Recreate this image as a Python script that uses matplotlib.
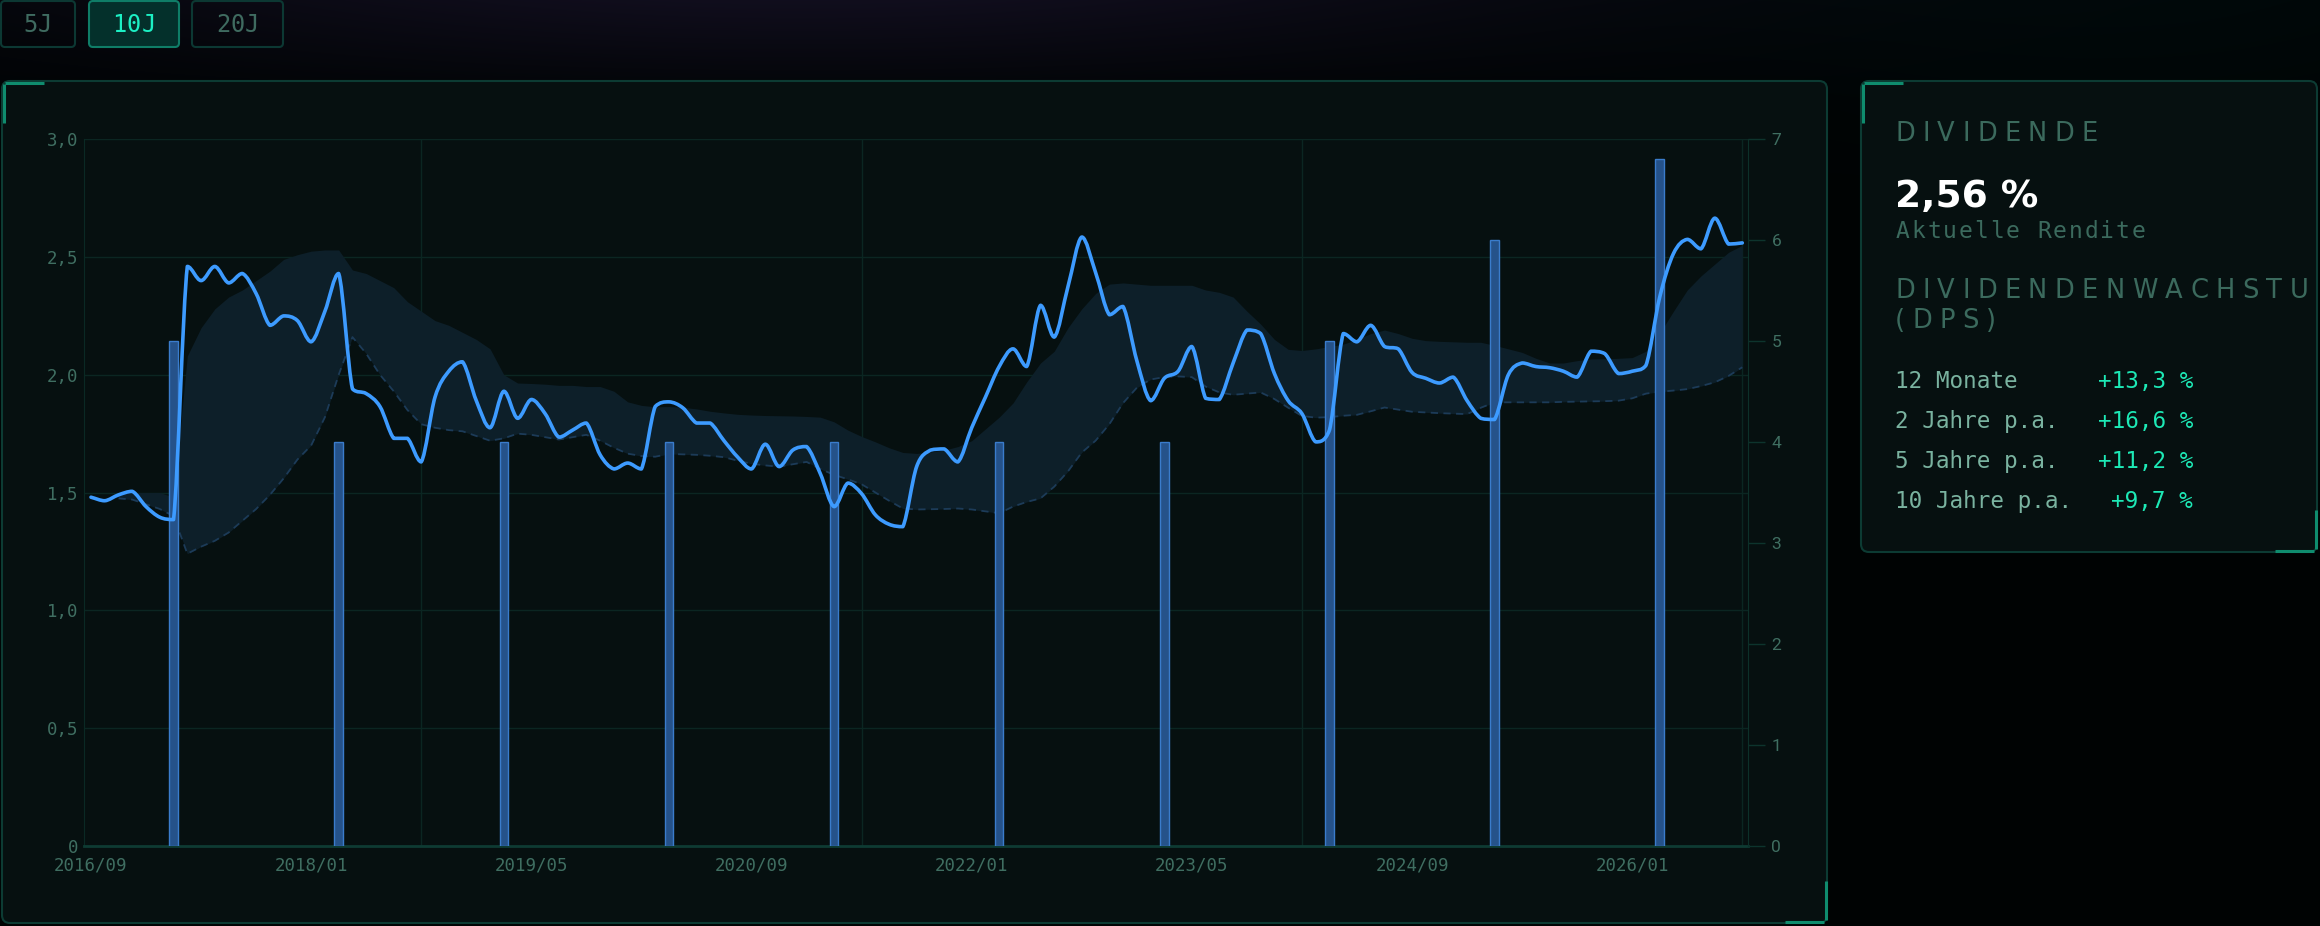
import matplotlib
matplotlib.use("Agg")
import matplotlib.pyplot as plt
from matplotlib.patches import FancyBboxPatch, Rectangle, PathPatch
from matplotlib.path import Path
import numpy as np

# --- Daten ---
start_monat = "2016/09"
rendite = [1.48, 1.465, 1.49, 1.505, 1.44, 1.395, 1.385, 2.46, 2.40, 2.46,
           2.39, 2.43, 2.345, 2.21, 2.25, 2.23, 2.14, 2.27, 2.43, 1.94,
           1.92, 1.865, 1.73, 1.73, 1.63, 1.905, 2.015, 2.055, 1.89, 1.775,
           1.93, 1.815, 1.895, 1.835, 1.735, 1.765, 1.795, 1.66, 1.60, 1.625,
           1.60, 1.865, 1.885, 1.86, 1.795, 1.795, 1.72, 1.65, 1.60, 1.705,
           1.61, 1.68, 1.695, 1.58, 1.44, 1.54, 1.495, 1.405, 1.365, 1.355,
           1.61, 1.68, 1.685, 1.63, 1.775, 1.905, 2.035, 2.11, 2.035, 2.295,
           2.16, 2.375, 2.585, 2.435, 2.255, 2.29, 2.06, 1.89, 1.985, 2.015,
           2.12, 1.90, 1.895, 2.05, 2.19, 2.175, 2.005, 1.89, 1.835, 1.715,
           1.765, 2.175, 2.14, 2.21, 2.12, 2.11, 2.01, 1.985, 1.965, 1.99,
           1.89, 1.815, 1.81, 2.00, 2.05, 2.035, 2.03, 2.015, 1.99, 2.10,
           2.09, 2.005, 2.015, 2.04, 2.33, 2.515, 2.575, 2.535, 2.665, 2.555,
           2.56]

# Band (Spanne der Rendite), beginnt 2016/11
band_start = 2
band_oben = [1.50, 1.50, 1.50, 1.50, 1.48, 2.08, 2.20, 2.28, 2.33, 2.36,
             2.40, 2.44, 2.49, 2.51, 2.525, 2.53, 2.53, 2.445, 2.43, 2.40,
             2.37, 2.31, 2.27, 2.23, 2.21, 2.18, 2.15, 2.11, 2.00, 1.965,
             1.963, 1.96, 1.955, 1.955, 1.95, 1.95, 1.93, 1.885, 1.87, 1.864,
             1.865, 1.862, 1.855, 1.845, 1.838, 1.832, 1.829, 1.827, 1.826, 1.825,
             1.823, 1.82, 1.80, 1.765, 1.738, 1.715, 1.69, 1.67, 1.666, 1.672,
             1.68, 1.695, 1.72, 1.77, 1.82, 1.88, 1.97, 2.05, 2.10, 2.20,
             2.28, 2.345, 2.385, 2.39, 2.385, 2.38, 2.38, 2.38, 2.38, 2.36,
             2.35, 2.33, 2.27, 2.215, 2.15, 2.108, 2.103, 2.11, 2.12, 2.13,
             2.15, 2.175, 2.19, 2.175, 2.155, 2.145, 2.142, 2.14, 2.138, 2.138,
             2.125, 2.11, 2.095, 2.07, 2.05, 2.05, 2.06, 2.067, 2.068, 2.07,
             2.073, 2.10, 2.176, 2.27, 2.36, 2.42, 2.47, 2.52, 2.55]
band_unten = [1.475, 1.47, 1.45, 1.43, 1.40, 1.24, 1.27, 1.295, 1.33, 1.38,
              1.43, 1.49, 1.56, 1.64, 1.70, 1.82, 2.00, 2.16, 2.09, 2.00,
              1.93, 1.85, 1.79, 1.775, 1.765, 1.76, 1.74, 1.72, 1.73, 1.75,
              1.745, 1.735, 1.725, 1.735, 1.745, 1.72, 1.69, 1.665, 1.655, 1.652,
              1.664, 1.662, 1.66, 1.656, 1.65, 1.635, 1.622, 1.615, 1.61, 1.62,
              1.63, 1.60, 1.575, 1.556, 1.535, 1.50, 1.465, 1.432, 1.428, 1.429,
              1.43, 1.432, 1.428, 1.42, 1.412, 1.44, 1.46, 1.475, 1.525, 1.59,
              1.67, 1.72, 1.79, 1.88, 1.945, 1.98, 1.99, 1.993, 1.99, 1.95,
              1.925, 1.915, 1.92, 1.925, 1.897, 1.86, 1.825, 1.818, 1.82, 1.826,
              1.83, 1.845, 1.861, 1.852, 1.843, 1.84, 1.837, 1.835, 1.833, 1.86,
              1.883, 1.883, 1.883, 1.883, 1.883, 1.885, 1.886, 1.887, 1.888, 1.89,
              1.90, 1.92, 1.928, 1.933, 1.939, 1.952, 1.968, 1.995, 2.032]

# Dividende je Aktie (rechte Achse)
dps_monate = ["2017/03", "2018/03", "2019/03", "2020/03", "2021/03",
              "2022/03", "2023/03", "2024/03", "2025/03", "2026/03"]
dps_werte = [5, 4, 4, 4, 4, 4, 4, 5, 6, 6.8]

x_labels = ["2016/09", "2018/01", "2019/05", "2020/09",
            "2022/01", "2023/05", "2024/09", "2026/01"]
y_links = ["0", "0,5", "1,0", "1,5", "2,0", "2,5", "3,0"]

zeitraeume = ["5J", "10J", "20J"]
aktiv = "10J"

wachstum_labels = ["12 Monate", "2 Jahre p.a.", "5 Jahre p.a.", "10 Jahre p.a."]
wachstum_werte = ["+13,3 %", "+16,6 %", "+11,2 %", "+9,7 %"]
aktuelle_rendite = "2,56 %"


def monat_index(s):
    j, m = s.split("/")
    j0, m0 = start_monat.split("/")
    return (int(j) - int(j0)) * 12 + int(m) - int(m0)


def glatter_pfad(xs, ys, k=0.5):
    # Kurve durch die Punkte (Bezier), Kontrollpunkte auf das Segment begrenzt
    xs = np.asarray(xs, float)
    ys = np.asarray(ys, float)
    n = len(xs)
    verts = [(xs[0], ys[0])]
    codes = [Path.MOVETO]
    for i in range(n - 1):
        p0 = max(i - 1, 0)
        p3 = min(i + 2, n - 1)
        lo, hi = min(ys[i], ys[i + 1]), max(ys[i], ys[i + 1])
        d1 = (ys[i + 1] - ys[p0]) / (xs[i + 1] - xs[p0])
        d2 = (ys[p3] - ys[i]) / (xs[p3] - xs[i])
        h = (xs[i + 1] - xs[i]) * k * 2 / 3
        c1 = (xs[i] + h, np.clip(ys[i] + d1 * h, lo, hi))
        c2 = (xs[i + 1] - h, np.clip(ys[i + 1] - d2 * h, lo, hi))
        verts += [c1, c2, (xs[i + 1], ys[i + 1])]
        codes += [Path.CURVE4] * 3
    return Path(verts, codes)


W, H = 2320, 926
fig = plt.figure(figsize=(W / 100, H / 100), dpi=100)
fig.patch.set_facecolor("#000000")

# Hintergrund in Pixelkoordinaten
bg = fig.add_axes([0, 0, 1, 1], zorder=0)
yy, xx = np.mgrid[0:H, 0:W].astype(float)
img = np.zeros((H, W, 3))
img[:] = [0.0, 0.012, 0.014]
top = np.clip(1 - yy / 110, 0, 1)
glow = np.exp(-((xx - 800) / 800) ** 2)
img += (top * glow)[..., None] * np.array([0.065, 0.042, 0.10])
haze = np.exp(-((xx - 2150) / 450) ** 2) * np.clip(1 - yy / 200, 0, 1)
img += haze[..., None] * np.array([0.0, 0.02, 0.02])
bg.imshow(np.clip(img, 0, 1), extent=(0, W, H, 0), aspect="auto", interpolation="bilinear")
bg.set_xlim(0, W)
bg.set_ylim(H, 0)
bg.axis("off")

akzent = "#0f8c6e"
rand = "#0c3b33"


def panel(x0, y0, x1, y1):
    p = FancyBboxPatch((x0, y0), x1 - x0, y1 - y0,
                       boxstyle="round,pad=0,rounding_size=8",
                       fc="#061010", ec=rand, lw=1.5, zorder=1)
    bg.add_patch(p)
    kw = dict(color=akzent, lw=2.2, solid_capstyle="butt", zorder=2)
    bg.plot([x0 + 3, x0 + 42], [y0 + 1.5, y0 + 1.5], **kw)
    bg.plot([x0 + 1.5, x0 + 1.5], [y0 + 3, y0 + 42], **kw)
    bg.plot([x1 - 42, x1 - 3], [y1 - 1.5, y1 - 1.5], **kw)
    bg.plot([x1 - 1.5, x1 - 1.5], [y1 - 42, y1 - 3], **kw)


panel(2, 81, 1827, 923)
panel(1861, 81, 2317, 552)

# Zeitraum-Buttons
knopf_x = [(1, 75), (89, 179), (192, 283)]
for (a, b), name in zip(knopf_x, zeitraeume):
    an = name == aktiv
    p = FancyBboxPatch((a, 1), b - a, 46, boxstyle="round,pad=0,rounding_size=4",
                       fc="#04302b" if an else "none",
                       ec="#0f7d67" if an else "#0c3833", lw=1.5, zorder=1)
    bg.add_patch(p)
    pitch = 14.4
    x_links = (a + b) / 2 - pitch * len(name) / 2
    for i, ch in enumerate(name):
        bg.text(x_links + pitch * (i + 0.5), 32, ch, ha="center", va="baseline",
                fontsize=17, family="DejaVu Sans Mono",
                color="#1cf0c4" if an else "#3f6b60", zorder=3)

# --- Diagramm ---
ax = fig.add_axes([83.7 / W, 1 - 845.7 / H, (1747.8 - 83.7) / W, (845.7 - 139.3) / H], zorder=2)
ax.set_facecolor("none")
ax2 = ax.twinx()
ax2.set_zorder(3)
ax2.patch.set_visible(False)

x = np.arange(len(rendite))
xb = np.arange(len(band_oben)) + band_start
gitter = "#0b2622"

ax.fill_between(xb, band_unten, band_oben, color="#0d1f29", lw=0, zorder=1)
ax.plot(xb, band_unten, color="#1c3b58", lw=1.3, ls=(0, (4, 3)), zorder=2)
for m in [24, 56, 88, 120]:
    ax.axvline(m, color=gitter, lw=1, zorder=0.5)
ax.grid(axis="y", color=gitter, lw=1)
ax.set_axisbelow(True)

bx = [monat_index(s) for s in dps_monate]
ax2.bar(bx, dps_werte, width=0.62, color="#25528a", edgecolor="#3a7ccc", lw=1, zorder=3)
linie = PathPatch(glatter_pfad(x, rendite), transform=ax.transData, fill=False,
                  edgecolor="#3d9bff", lw=2.6, joinstyle="round", capstyle="round", zorder=5)
ax2.add_patch(linie)

ax.set_xlim(-0.53, 120.4)
ax.set_ylim(0, 3)
ax2.set_ylim(0, 7)

ax.set_xticks([monat_index(s) for s in x_labels])
ax.set_xticklabels(x_labels)
ax.set_yticks(np.arange(0, 3.01, 0.5))
ax.set_yticklabels(y_links)
ax.tick_params(axis="x", length=0, pad=8, labelsize=12.5, labelcolor="#3f6e61",
               labelfontfamily="DejaVu Sans Mono")
ax.tick_params(axis="y", length=0, pad=4, labelsize=12.5, labelcolor="#3f6e61",
               labelfontfamily="DejaVu Sans Mono")
ax2.set_yticks(range(8))
ax2.tick_params(axis="y", length=12, width=1, color="#0d342d", pad=5, labelsize=12.5,
                labelcolor="#3f6e61", labelfontfamily="Roboto")

for s in ["top", "right"]:
    ax.spines[s].set_visible(False)
ax.spines["left"].set_color("#0a2924")
ax.spines["bottom"].set_color("#0e3b33")
ax.spines["bottom"].set_linewidth(2)
for s in ["top", "left", "bottom"]:
    ax2.spines[s].set_visible(False)
ax2.spines["right"].set_color("#0c3029")

# --- Kennzahlen-Panel ---
renderer = fig.canvas.get_renderer()
titel_farbe = "#3b6a5d"
clip = Rectangle((1861, 81), 455, 471, transform=bg.transData)


def gesperrt(x0, y, s, breite_ziel=None, spur=8.0, **kw):
    teile = []
    cur = x0
    breiten = []
    for ch in s:
        t = bg.text(cur, y, ch, ha="left", va="baseline", **kw)
        breiten.append(t.get_window_extent(renderer).width)
        teile.append(t)
    if breite_ziel is not None:
        spur = (breite_ziel - sum(breiten)) / (len(s) - 1)
    for t, w in zip(teile, breiten):
        t.set_x(cur)
        t.set_clip_path(clip)
        t.set_clip_on(True)
        cur += w + spur
    return spur


titel_kw = dict(fontsize=18.5, family="DejaVu Sans", color=titel_farbe, zorder=3)
spur = gesperrt(1895, 140.7, "DIVIDENDE", breite_ziel=203, **titel_kw)
gesperrt(1895, 298.3, "DIVIDENDENWACHSTUM", spur=spur, **titel_kw)
gesperrt(1895, 328.3, "(DPS)", spur=spur, **titel_kw)

bg.text(1895, 206.7, aktuelle_rendite, ha="left", va="baseline", fontsize=27,
        fontweight="bold", family="DejaVu Sans", color="#ffffff", zorder=3)

for i, ch in enumerate("Aktuelle Rendite"):
    bg.text(1895 + 15.7 * i + 7.8, 238.3, ch, ha="center", va="baseline", fontsize=16.5,
            family="DejaVu Sans Mono", color=titel_farbe, zorder=3)

for i, (lab, wert) in enumerate(zip(wachstum_labels, wachstum_werte)):
    yb = 388.3 + 40 * i
    bg.text(1895, yb, lab, ha="left", va="baseline", fontsize=16.3,
            family="DejaVu Sans Mono", color="#7ab3a0", zorder=3)
    bg.text(2193, yb, wert, ha="right", va="baseline", fontsize=16.3,
            family="DejaVu Sans Mono", color="#1de9b6", zorder=3)

fig.savefig("out.png", dpi=100, facecolor=fig.get_facecolor())
